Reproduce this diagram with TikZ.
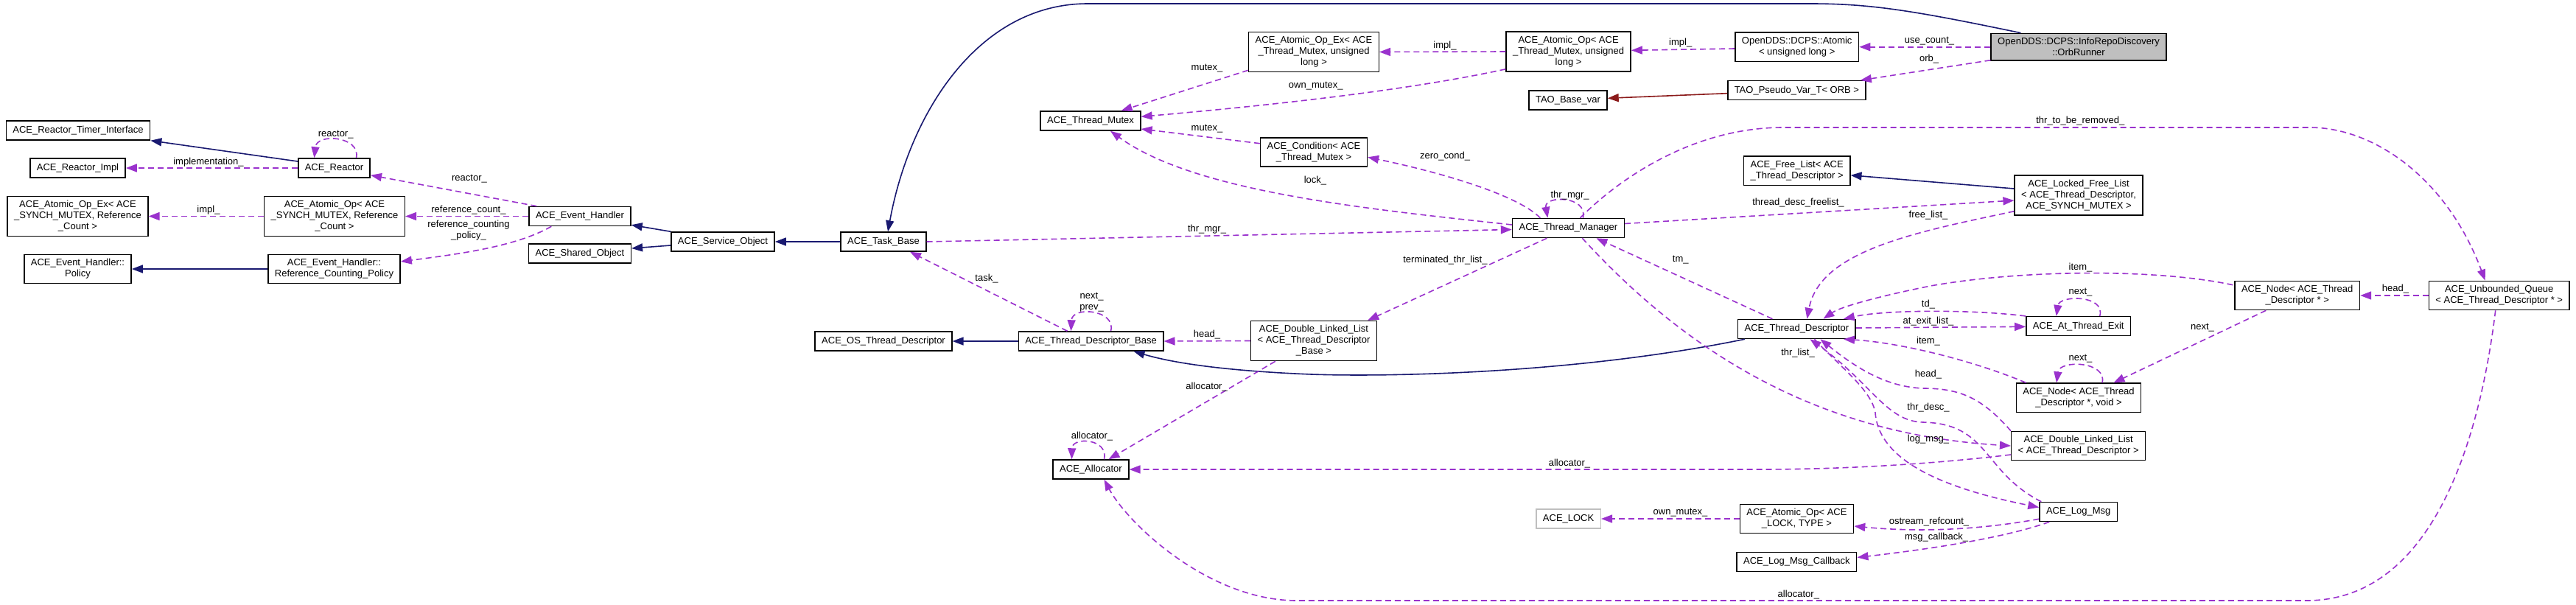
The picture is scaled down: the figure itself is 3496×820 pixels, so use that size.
\documentclass[tikz,border=0pt]{standalone}
\usepackage{fontspec}
\setmainfont{Liberation Sans}
\usetikzlibrary{arrows.meta,calc}
\definecolor{inhblue}{RGB}{25,25,112}
\definecolor{privred}{RGB}{139,26,26}
\definecolor{usepurple}{RGB}{154,50,205}
\definecolor{rootgray}{RGB}{191,191,191}

\begin{document}
\begin{tikzpicture}[x=1pt,y=1pt,yscale=-1,xscale=1,
  cls/.style={draw=black,line width=1.5pt,fill=white,font=\fontsize{13}{15}\selectfont,align=center,inner xsep=9pt,inner ysep=6pt,minimum height=26pt},
  lbl/.style={font=\fontsize{13}{15}\selectfont,align=center,inner sep=0pt},
  inh/.style={draw=inhblue,line width=1.6pt,-{Triangle[length=15pt,width=11pt]}},
  priv/.style={draw=privred,line width=1.6pt,-{Triangle[length=15pt,width=11pt]}},
  use/.style={draw=usepurple,line width=1.6pt,dash pattern=on 8pt off 5pt,-{Triangle[length=15pt,width=11pt]}}]
%set diagram left start at 0, and has height of 820
\useasboundingbox (0,0) rectangle (3496,820);

%Shape: Class boxes, left part
\node[cls] (timer) at (106,177) {ACE\_Reactor\_Timer\_Interface};
\node[cls] (reactorimpl) at (105.5,228) {ACE\_Reactor\_Impl};
\node[cls] (reactor) at (453.5,228) {ACE\_Reactor};
\node[cls] (atomicopexsync) at (105.5,293.5) {ACE\_Atomic\_Op\_Ex< ACE\\\_SYNCH\_MUTEX, Reference\\\_Count >};
\node[cls] (atomicopsync) at (454,293.5) {ACE\_Atomic\_Op< ACE\\\_SYNCH\_MUTEX, Reference\\\_Count >};
\node[cls] (evhandler) at (787,293.5) {ACE\_Event\_Handler};
\node[cls] (sharedobj) at (787,344) {ACE\_Shared\_Object};
\node[cls] (policy) at (105.5,365) {ACE\_Event\_Handler::\\Policy};
\node[cls] (refpolicy) at (453.5,365) {ACE\_Event\_Handler::\\Reference\_Counting\_Policy};
\node[cls] (serviceobj) at (981,328) {ACE\_Service\_Object};
\node[cls] (taskbase) at (1199,328) {ACE\_Task\_Base};
\node[cls] (osdesc) at (1199,463) {ACE\_OS\_Thread\_Descriptor};
\node[cls] (descbase) at (1480.5,463) {ACE\_Thread\_Descriptor\_Base};
\node[cls] (allocator) at (1480.5,637) {ACE\_Allocator};
\node[cls] (mutex) at (1480,164) {ACE\_Thread\_Mutex};

%Shape: Class boxes, middle part
\node[cls] (atomicopexmutex) at (1783,70.5) {ACE\_Atomic\_Op\_Ex< ACE\\\_Thread\_Mutex, unsigned\\long >};
\node[cls] (condition) at (1783,206.7) {ACE\_Condition< ACE\\\_Thread\_Mutex >};
\node[cls] (dllbase) at (1783,462.5) {ACE\_Double\_Linked\_List\\< ACE\_Thread\_Descriptor\\\_Base >};
\node[cls] (atomicopmutex) at (2128.6,70) {ACE\_Atomic\_Op< ACE\\\_Thread\_Mutex, unsigned\\long >};
\node[cls] (basevar) at (2128,136) {TAO\_Base\_var};
\node[cls] (thrmgr) at (2128.4,309.5) {ACE\_Thread\_Manager};
\node[cls,draw=rootgray] (acelock) at (2128.6,704) {ACE\_LOCK};
\node[cls] (ddsatomic) at (2438.7,63.7) {OpenDDS::DCPS::Atomic\\< unsigned long >};
\node[cls] (pseudovar) at (2438.4,122.7) {TAO\_Pseudo\_Var\_T< ORB >};
\node[cls] (freelist) at (2438.7,231.8) {ACE\_Free\_List< ACE\\\_Thread\_Descriptor >};
\node[cls] (thrdesc) at (2438.4,446.5) {ACE\_Thread\_Descriptor};
\node[cls] (atomicoplock) at (2438.4,704) {ACE\_Atomic\_Op< ACE\\\_LOCK, TYPE >};
\node[cls] (callback) at (2438.4,762.5) {ACE\_Log\_Msg\_Callback};

%Shape: Class boxes, right part
\node[cls,fill=rootgray] (orbrunner) at (2821,63.7) {OpenDDS::DCPS::InfoRepoDiscovery\\::OrbRunner};
\node[cls] (lockedfree) at (2821,265) {ACE\_Locked\_Free\_List\\< ACE\_Thread\_Descriptor,\\ACE\_SYNCH\_MUTEX >};
\node[cls] (atexit) at (2820.7,442.7) {ACE\_At\_Thread\_Exit};
\node[cls] (nodevoid) at (2821,539.7) {ACE\_Node< ACE\_Thread\\\_Descriptor *, void >};
\node[cls] (dlldesc) at (2820.7,605) {ACE\_Double\_Linked\_List\\< ACE\_Thread\_Descriptor >};
\node[cls] (logmsg) at (2820.7,694.5) {ACE\_Log\_Msg};
\node[cls] (nodeptr) at (3117.7,401) {ACE\_Node< ACE\_Thread\\\_Descriptor * >};
\node[cls] (queue) at (3391.7,401) {ACE\_Unbounded\_Queue\\< ACE\_Thread\_Descriptor * >};

%Straight Lines: inheritance
\draw[inh] ($(reactor.west)+(0,-9)$) -- (timer.south east);
\draw[inh] (refpolicy.west) -- (policy.east);
\draw[inh] (serviceobj.north west) -- ($(evhandler.south east)+(0,-2)$);
\draw[inh] ($(serviceobj.west)+(0,5)$) -- ($(sharedobj.east)+(0,-7)$);
\draw[inh] (taskbase.west) -- (serviceobj.east);
\draw[inh] ($(orbrunner.north west)+(41,0)$) .. controls (2600,15) and (2540,5) .. (2458,5) -- (1476,5) .. controls (1330,5) and (1235,150) .. ($(taskbase.north)+(6,0)$);
\draw[inh] ($(thrdesc.south west)+(10,0)$) .. controls (2150,505) and (1900,512) .. (1780,508) .. controls (1680,504) and (1600,495) .. ($(descbase.south east)+(-41,0)$);
\draw[inh] ($(lockedfree.west)+(0,-9)$) -- ($(freelist.east)+(0,6)$);
\draw[inh] (descbase.west) -- (osdesc.east);
\draw[priv] ($(pseudovar.west)+(0,4)$) -- ($(basevar.east)+(0,-2.7)$);

%Curve Lines: usage, left part
\draw[use] ($(reactor.north)+(30,0)$) .. controls (490,185) and (430,180) .. ($(reactor.north)+(-27,0)$);
\draw[use] (reactor.west) -- (reactorimpl.east);
\draw[use] ($(evhandler.north west)+(11,0)$) -- ($(reactor.south east)+(0,-4)$);
\draw[use] (evhandler.west) -- (atomicopsync.east);
\draw[use] ($(evhandler.south west)+(31,0)$) .. controls (700,335) and (620,345) .. ($(refpolicy.east)+(0,-10)$);
\draw[use] (atomicopsync.west) -- (atomicopexsync.east);
\draw[use] (taskbase.east) -- ($(thrmgr.west)+(0,2)$);
\draw[use] ($(descbase.north)+(-32,0)$) -- ($(taskbase.south)+(36,0)$);
\draw[use] ($(descbase.north)+(27,0)$) .. controls (1515,420) and (1455,415) .. ($(descbase.north)+(-27,0)$);
\draw[use] (dllbase.west) -- (descbase.east);
\draw[use] ($(dllbase.south west)+(34,0)$) -- ($(allocator.north east)+(-28,0)$);
\draw[use] ($(allocator.north)+(18,0)$) .. controls (1505,595) and (1455,592) .. ($(allocator.north)+(-26,0)$);
\draw[use] ($(dlldesc.west)+(0,12)$) .. controls (2620,630) and (2500,637) .. (2385,637) -- (allocator.east);
\draw[use] ($(queue.south)+(-5,0)$) .. controls (3365,600) and (3300,815) .. (3130,815) -- (1760,815) .. controls (1640,815) and (1530,710) .. ($(allocator.south)+(18,0)$);

%Curve Lines: usage, mutex and atomics
\draw[use] ($(thrmgr.west)+(0,-4.5)$) .. controls (1850,283) and (1620,260) .. ($(mutex.south)+(27,0)$);
\draw[use] ($(atomicopexmutex.south west)+(0,-3)$) -- ($(mutex.north east)+(-27,0)$);
\draw[use] ($(condition.west)+(0,-12)$) -- ($(mutex.east)+(0,11)$);
\draw[use] ($(atomicopmutex.south west)+(0,-4)$) .. controls (1900,125) and (1700,145) .. ($(mutex.east)+(0,-5.7)$);
\draw[use] (atomicopmutex.west) -- (atomicopexmutex.east);
\draw[use] ($(ddsatomic.west)+(0,2.3)$) -- ($(atomicopmutex.east)+(0,-1.7)$);
\draw[use] (orbrunner.west) -- (ddsatomic.east);
\draw[use] ($(orbrunner.south west)+(0,-1)$) -- ($(pseudovar.north east)+(-8,0)$);

%Curve Lines: usage, thread manager
\draw[use] ($(thrmgr.north)+(-38,0)$) .. controls (2060,265) and (1960,235) .. ($(condition.east)+(0,6.6)$);
\draw[use] ($(thrmgr.north)+(20,0)$) .. controls (2155,265) and (2095,265) .. ($(thrmgr.north)+(-28,0)$);
\draw[use] ($(thrmgr.north)+(16,0)$) .. controls (2200,240) and (2300,173) .. (2420,173) -- (3135,173) .. controls (3220,173) and (3320,240) .. ($(queue.north)+(-19,0)$);
\draw[use] ($(thrmgr.south)+(-29,0)$) -- ($(dllbase.north east)+(-13,0)$);
\draw[use] ($(thrdesc.north)+(-33,0)$) -- ($(thrmgr.south)+(38,0)$);
\draw[use] ($(thrmgr.east)+(0,-6)$) -- ($(lockedfree.west)+(0,7)$);
\draw[use] ($(thrmgr.south)+(19,0)$) .. controls (2300,490) and (2480,590) .. (dlldesc.west);

%Curve Lines: usage, thread descriptor
\draw[use] ($(lockedfree.south west)+(0,-6)$) .. controls (2600,315) and (2470,340) .. ($(thrdesc.north)+(14,0)$);
\draw[use] ($(nodeptr.north west)+(-2,6)$) .. controls (2930,365) and (2750,365) .. (2620,388) .. controls (2560,400) and (2500,415) .. ($(thrdesc.north)+(36,0)$);
\draw[use] (atexit.north west) .. controls (2680,420) and (2560,420) .. ($(thrdesc.north east)+(-17,0)$);
\draw[use] ($(thrdesc.east)+(0,-1.5)$) -- ($(atexit.west)+(0,0.6)$);
\draw[use] ($(atexit.north)+(29,0)$) .. controls (2858,400) and (2795,400) .. ($(atexit.north)+(-30,0)$);
\draw[use] ($(nodevoid.north west)+(14,0)$) .. controls (2680,490) and (2580,465) .. ($(thrdesc.south east)+(-17,0)$);
\draw[use] ($(nodevoid.north)+(32,0)$) .. controls (2860,490) and (2795,488) .. ($(nodevoid.north)+(-30,0)$);
\draw[use] ($(nodeptr.south west)+(43,0)$) -- ($(nodevoid.north east)+(-38,0)$);
\draw[use] (queue.west) -- (nodeptr.east);
\draw[use] (dlldesc.north west) .. controls (2690,540) and (2660,527) .. (2610,527) .. controls (2560,525) and (2520,500) .. ($(thrdesc.south)+(32,0)$);
\draw[use] ($(thrdesc.south)+(24,0)$) .. controls (2500,500) and (2540,530) .. (2545,560) .. controls (2550,630) and (2650,665) .. ($(logmsg.west)+(0,-6)$);
\draw[use] ($(logmsg.north west)+(3,0)$) .. controls (2690,640) and (2700,575) .. (2610,573) .. controls (2560,572) and (2540,520) .. ($(thrdesc.south)+(18,0)$);

%Curve Lines: usage, log message
\draw[use] (atomicoplock.west) -- (acelock.east);
\draw[use] ($(logmsg.south west)+(0,-4)$) .. controls (2680,720) and (2600,722) .. ($(atomicoplock.east)+(0,10)$);
\draw[use] ($(logmsg.south west)+(14,0)$) .. controls (2720,730) and (2620,745) .. ($(callback.east)+(0,-6)$);

% Text Node
\node[lbl] (lreactorself) at (455.7,182.7) {reactor\_};
\node[lbl] (limplementation) at (283,220) {implementation\_};
\node[lbl] (lreactor) at (637,242.7) {reactor\_};
\node[lbl] (lrefcount) at (636,285) {reference\_count\_};
\node[lbl] (lrefpolicy) at (636,312.5) {reference\_counting\\\_policy\_};
\node[lbl] (limplsync) at (283,285) {impl\_};
\node[lbl] (lthrmgr) at (1638,310.7) {thr\_mgr\_};
\node[lbl] (ltask) at (1339,378.3) {task\_};
\node[lbl] (lnextprev) at (1481.6,409.7) {next\_\\prev\_};
\node[lbl] (lheadbase) at (1638,454.3) {head\_};
\node[lbl] (lallocbase) at (1637.6,525) {allocator\_};
\node[lbl] (lallocself) at (1482,591.7) {allocator\_};
\node[lbl] (lallocdesc) at (2130,629.3) {allocator\_};
\node[lbl] (lallocqueue) at (2440.8,806.7) {allocator\_};
\node[lbl] (lmutexex) at (1638,92.7) {mutex\_};
\node[lbl] (lmutexcond) at (1638,174.3) {mutex\_};
\node[lbl] (lownmutex) at (1785.8,116.7) {own\_mutex\_};
\node[lbl] (llock) at (1785,245) {lock\_};
\node[lbl] (limplex) at (1961,61.7) {impl\_};
\node[lbl] (lzerocond) at (1961,211.7) {zero\_cond\_};
\node[lbl] (lterminated) at (1961.4,352.7) {terminated\_thr\_list\_};
\node[lbl] (lthrmgrself) at (2130.6,265) {thr\_mgr\_};
\node[lbl] (limplop) at (2280.7,58.3) {impl\_};
\node[lbl] (ltm) at (2280.7,352.7) {tm\_};
\node[lbl] (lownmutexlock) at (2280.5,695.7) {own\_mutex\_};
\node[lbl] (lfreelistdesc) at (2440.5,275) {thread\_desc\_freelist\_};
\node[lbl] (lthrlist) at (2440,479.3) {thr\_list\_};
\node[lbl] (lusecount) at (2618.5,56) {use\_count\_};
\node[lbl] (lorb) at (2618,80) {orb\_};
\node[lbl] (lfreelist) at (2617,291.7) {free\_list\_};
\node[lbl] (ltd) at (2617,413.3) {td\_};
\node[lbl] (latexit) at (2617,435.7) {at\_exit\_list\_};
\node[lbl] (litemvoid) at (2617,463.3) {item\_};
\node[lbl] (lheaddesc) at (2617,507.7) {head\_};
\node[lbl] (lthrdesc) at (2617,552.7) {thr\_desc\_};
\node[lbl] (llogmsg) at (2617,596) {log\_msg\_};
\node[lbl] (lostream) at (2618,707.7) {ostream\_refcount\_};
\node[lbl] (lcallback) at (2628,729) {msg\_callback\_};
\node[lbl] (lremoved) at (2823.3,164.3) {thr\_to\_be\_removed\_};
\node[lbl] (litemptr) at (2823.5,363.3) {item\_};
\node[lbl] (lnextexit) at (2823.5,396.7) {next\_};
\node[lbl] (lnextvoid) at (2823.5,486.7) {next\_};
\node[lbl] (lnextptr) at (2989,444.3) {next\_};
\node[lbl] (lheadqueue) at (3251,392.3) {head\_};

\end{tikzpicture}
\end{document}
